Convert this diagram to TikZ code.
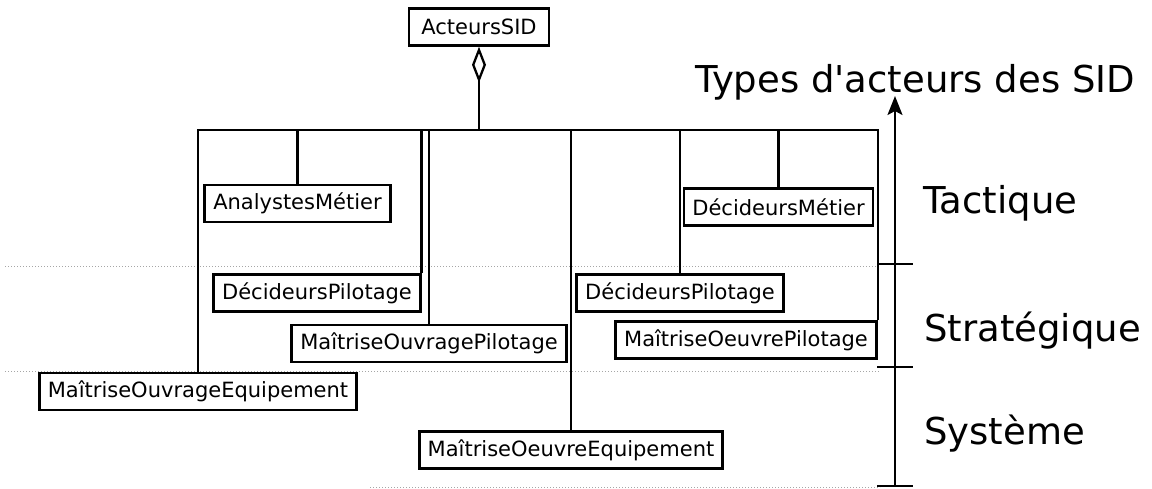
\documentclass[tikz,border=0pt]{standalone}
\usepackage{fontspec}
\setmainfont{DejaVu Sans}[Ligatures=TeXOff]
\usetikzlibrary{arrows.meta}
\tikzset{
  classbox/.style={draw, line width=2.6pt, inner xsep=8.5pt, inner ysep=0pt, minimum height=37pt,
    font=\fontsize{21}{24}\selectfont},
  conn/.style={line width=2.3pt},
  level/.style={draw=gray!70, dotted, line width=1pt},
  axis/.style={line width=2.3pt},
  levellabel/.style={anchor=base west, inner sep=0pt, font=\fontsize{37}{42}\selectfont}
}
\begin{document}
\begin{tikzpicture}[x=1pt,y=-1pt]
\useasboundingbox (0,0) rectangle (1152,488);
% level separators
\draw[level] (5,266) -- (880,266);
\draw[level] (5,371) -- (880,371);
\draw[level] (370,487) -- (880,487);
% boxes
\node[classbox, minimum width=140pt] (acteurs) at (479,27) {ActeursSID};
\node[classbox] (am)   at (297.5,203.5) {AnalystesMétier};
\node[classbox] (dpl)  at (317,293) {DécideursPilotage};
\node[classbox] (mop)  at (429,343.5) {MaîtriseOuvragePilotage};
\node[classbox] (moe)  at (198,391.5) {MaîtriseOuvrageEquipement};
\node[classbox] (moee) at (571,450) {MaîtriseOeuvreEquipement};
\node[classbox] (dpr)  at (680,293) {DécideursPilotage};
\node[classbox] (dm)   at (778.5,207) {DécideursMétier};
\node[classbox] (moep) at (746,340) {MaîtriseOeuvrePilotage};
% aggregation
\coordinate (bj) at (acteurs.south |- {(0,130)});
\draw[conn, -{Diamond[open, length=36pt, width=14pt, line width=2.3pt]}] (bj) -- (acteurs.south);
\draw[conn, line width=2.8pt] (moe.north) |- (bj);
\draw[conn] (bj) -| (moep.north east);
\draw[conn] (am.north) -- (am.north |- bj);
\draw[conn] (dpl.north east) -- (dpl.north east |- bj);
\draw[conn] (mop.north) -- (mop.north |- bj);
\draw[conn] (moee.north) -- (moee.north |- bj);
\draw[conn] (dpr.north) -- (dpr.north |- bj);
\draw[conn] (dm.north) -- (dm.north |- bj);
% axis
\coordinate (abot) at (895,486);
\coordinate (atop) at (895,96);
\coordinate (t1l) at (877,264); \coordinate (t1r) at (913,264);
\coordinate (t2l) at (877,367); \coordinate (t2r) at (913,367);
\coordinate (t3l) at (877,486); \coordinate (t3r) at (913,486);
\draw[axis, -{Stealth[length=19pt, width=15pt, inset=4pt]}] (abot) -- (atop);
\draw[axis] (t1l) -- (t1r);
\draw[axis] (t2l) -- (t2r);
\draw[axis] (t3l) -- (t3r);
% labels
\node[levellabel] (title) at (695,92) {Types d'acteurs des SID};
\node[levellabel] (tact) at (923,213) {Tactique};
\node[levellabel] (strat) at (924,341) {Stratégique};
\node[levellabel] (sys) at (924,444) {Système};
\end{tikzpicture}
\end{document}
